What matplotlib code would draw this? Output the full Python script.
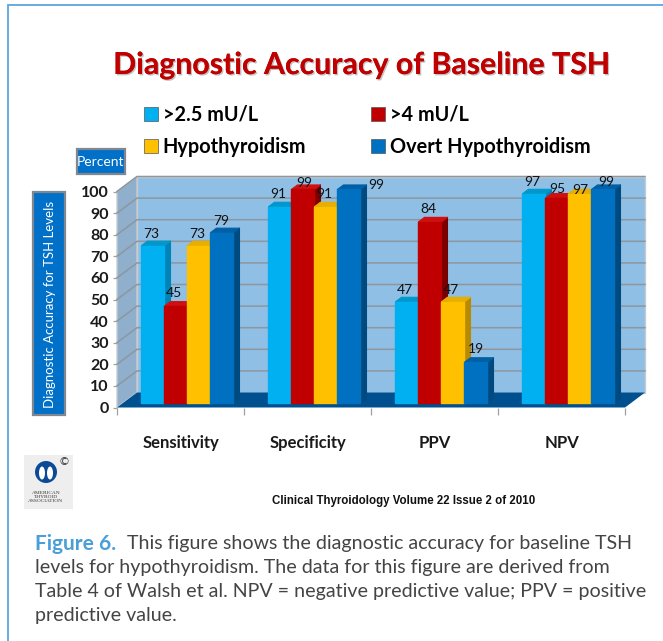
import matplotlib
matplotlib.use("Agg")
import matplotlib.pyplot as plt
import matplotlib.patheffects as pe
from matplotlib.patches import Polygon, Rectangle, Ellipse

categories = ["Sensitivity", "Specificity", "PPV", "NPV"]
series_names = [">2.5 mU/L", ">4 mU/L", "Hypothyroidism", "Overt Hypothyroidism"]
v_25 = [73, 91, 47, 97]
v_4 = [45, 99, 84, 95]
v_hypo = [73, 91, 47, 97]
v_overt = [79, 99, 19, 99]
series = [v_25, v_4, v_hypo, v_overt]
y_ticks = list(range(0, 101, 10))

face = ["#00B0F0", "#C00000", "#FFC000", "#0070C0"]
side = ["#0084B8", "#7A0000", "#B88A00", "#004A80"]
top = ["#0098CC", "#D01010", "#E8AE00", "#005FA5"]

# data-label nudges in pixels (dx, up) per series, per category
lab_dx = [[-2, -2, -2, -2], [-2, 1, -2, 0], [-2, -2, -2, 0], [-1, 27, 0, 3]]
lab_up = [[12, 13, 12, 12], [13, 6, 13, 9], [12, 13, 12, 4], [12, 4, 13, 7]]

W, H = 663, 641
NARROW = "Lato"
fig = plt.figure(figsize=(W / 100, H / 100), dpi=100, facecolor="white")

bg = fig.add_axes([0, 0, 1, 1], zorder=0)
bg.set_xlim(0, W); bg.set_ylim(H, 0); bg.axis("off")
bg.plot([8, 8, W], [H, 5, 5], color="#5DA5DA", lw=1.3, solid_joinstyle="miter")

L, R, Y0, Y100 = 117, 625, 407.5, 191.5
ax = fig.add_axes([L / W, 1 - Y0 / H, (R - L) / W, (Y0 - Y100) / H], zorder=2)
ax.patch.set_visible(False)
ax.set_xlim(0, 4); ax.set_ylim(0, 100)
for s in ax.spines.values():
    s.set_visible(False)
px_x = 4 / (R - L)
px_y = 100 / (Y0 - Y100)
dx, dy = 20 * px_x, 15 * px_y

ax.add_patch(Polygon([(dx, dy), (4 + dx, dy), (4 + dx, 100 + dy), (dx, 100 + dy)], closed=True,
                     fc="#8FBFE5", ec="#C8CCD0", lw=1, zorder=1, clip_on=False))
ax.add_patch(Polygon([(0, 0), (dx, dy), (dx, 100 + dy), (0, 100)], closed=True,
                     fc="#8FAFCC", ec="#C8CCD0", lw=1, zorder=1, clip_on=False))
ax.add_patch(Polygon([(0, 0), (dx, dy), (4 + dx, dy), (4, 0)], closed=True,
                     fc="#00508F", ec="none", zorder=1.5, clip_on=False))
for t in y_ticks[1:]:
    ax.plot([0, dx, 4 + dx], [t, t + dy, t + dy], color="#8C979F", lw=1.1, zorder=1.2, clip_on=False)

bw = 23 * px_x
depth_x, depth_y = 6 * px_x, 4.5 * px_y
base = 4.2 * px_y
for j, vals in enumerate(series):
    xs = [i + 0.555 + (j - 1.5) * bw for i in range(len(categories))]
    z = 3 + j
    ax.bar(xs, vals, width=bw, bottom=base, color=face[j], edgecolor=face[j], lw=1,
           label=series_names[j], zorder=z + 0.5, clip_on=False, joinstyle="round")
    for x, v, i in zip(xs, vals, range(4)):
        l, r, b, t = x - bw / 2, x + bw / 2, base, base + v
        ax.add_patch(Polygon([(r, b), (r + depth_x, b + depth_y), (r + depth_x, t + depth_y), (r, t)],
                             closed=True, fc=side[j], ec=side[j], lw=0.8, joinstyle="round",
                             zorder=z, clip_on=False))
        ax.add_patch(Polygon([(l, t), (l + depth_x, t + depth_y), (r + depth_x, t + depth_y), (r, t)],
                             closed=True, fc=top[j], ec=top[j], lw=0.8, joinstyle="round",
                             zorder=z, clip_on=False))
        ax.annotate(str(v), (x, t), xytext=(lab_dx[j][i], lab_up[j][i]), textcoords="offset pixels",
                    ha="center", va="center", fontsize=10, family=NARROW, color="#111111",
                    zorder=20, annotation_clip=False)

ax.set_yticks(y_ticks)
ax.set_yticklabels([str(t) for t in y_ticks], fontsize=11.5, fontweight="bold", family=NARROW, color="#1a1a1a")
ax.tick_params(axis="y", length=3, width=0.9, color="#A0A0A0", pad=3)
ax.set_xticks(range(5))
ax.set_xticklabels([""] * 5)
ax.tick_params(axis="x", which="major", length=5, width=0.9, color="#A0A0A0")
ax.set_xticks([i + 0.5 for i in range(4)], minor=True)
ax.set_xticklabels(categories, minor=True, fontsize=12, fontweight="bold", family=NARROW, color="#1a1a1a")
ax.tick_params(axis="x", which="minor", length=0, pad=20)

# legend: two rows, filled column by column
c = list(ax.containers)
order = [0, 2, 1, 3]
leg = fig.legend([c[i] for i in order], [series_names[i] for i in order], ncols=2, loc="upper left",
                 bbox_to_anchor=(143 / W, 1 - 104 / H), frameon=False,
                 prop={"family": NARROW, "weight": "bold", "size": 14.3},
                 handlelength=0.7, handleheight=0.7, handletextpad=0.25,
                 columnspacing=3.25, labelspacing=0.62, borderpad=0.05, borderaxespad=0)
for h in leg.legend_handles:
    h.set_edgecolor("#555555"); h.set_linewidth(0.5)

bg.text(362, 65, "Diagnostic Accuracy of Baseline TSH", ha="center", va="center", fontsize=21.8,
        fontweight="bold", family=NARROW, color="#C00000",
        path_effects=[pe.withSimplePatchShadow(offset=(1, -1), shadow_rgbFace="#999999", alpha=0.6), pe.Normal()])

def button(x0, y0, x1, y1):
    bg.add_patch(Rectangle((x0, y0), x1 - x0, y1 - y0, fc="#0070C8", ec="#7F8790", lw=1.6))

button(77, 149, 125, 174)
bg.text(101, 162, "Percent", ha="center", va="center", color="white", fontsize=10, family=NARROW)
button(33, 192, 65, 415)
bg.text(50, 304, "Diagnostic Accuracy for TSH Levels", ha="center", va="center", rotation=90,
        color="white", fontsize=9.5, family=NARROW)

# logo
bg.add_patch(Rectangle((24, 455), 49, 54, fc="#EEEEEE", ec="none"))
bg.add_patch(Ellipse((46, 472), 22, 22, fc="#0B4A94", ec="none"))
bg.add_patch(Ellipse((42, 473), 6, 13, fc="white", ec="none"))
bg.add_patch(Ellipse((50, 473), 6, 13, fc="white", ec="none"))
bg.text(64, 462, "©", ha="center", va="center", fontsize=8, color="#333333")
bg.text(46, 497, "AMERICAN\nTHYROID\nASSOCIATION", ha="center", va="center", fontsize=3.9,
        family="Liberation Serif", color="#333333", linespacing=1.15)

bg.text(404, 501, "Clinical Thyroidology Volume 22 Issue 2 of 2010", ha="center", va="center",
        fontsize=8.3, fontweight="bold", family="Liberation Sans", color="#111111")

cap_font = "Lato"
cap = ["levels for hypothyroidism. The data for this figure are derived from",
       "Table 4 of Walsh et al. NPV = negative predictive value; PPV = positive",
       "predictive value."]
bg.text(35, 544, "Figure 6.", ha="left", va="center", fontsize=15, fontweight="bold",
        family=cap_font, color="#4A9FD8")
bg.text(127, 544, "This figure shows the diagnostic accuracy for baseline TSH", ha="left", va="center",
        fontsize=14.1, family=cap_font, color="#444444")
for k, line in enumerate(cap):
    bg.text(35, 568 + k * 24, line, ha="left", va="center", fontsize=14.1, family=cap_font, color="#444444")

fig.savefig("out.png", dpi=100)
